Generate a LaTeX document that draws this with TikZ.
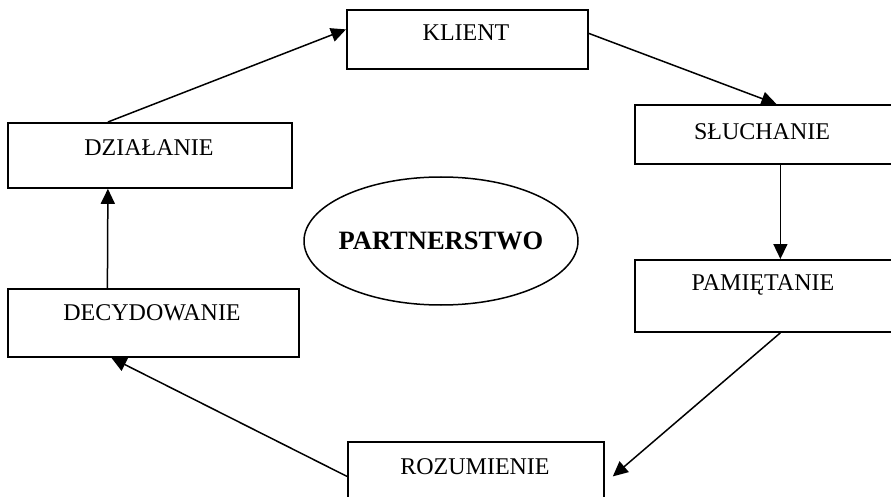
\documentclass[tikz,border=0pt]{standalone}
\usepackage{fontspec}
\setmainfont{Liberation Serif}
\usetikzlibrary{arrows.meta,shapes.geometric}
\begin{document}
\begin{tikzpicture}[x=1pt,y=-1pt,
  stepbox/.style={draw, line width=1.8pt, inner sep=0pt, anchor=north west},
  lbl/.style={font=\fontsize{24}{28}\selectfont, inner sep=0pt},
  conn/.style={line width=1.5pt, -{Triangle[length=15pt,width=14pt]}}]
\clip (0,0) rectangle (891,497);
\useasboundingbox (0,0) rectangle (891,497);
% boxes
\node[stepbox, minimum width=241pt, minimum height=59pt] (kl) at (346,9) {};
\node[stepbox, minimum width=271pt, minimum height=59pt] (sl) at (634,104) {};
\node[stepbox, minimum width=271pt, minimum height=72pt] (pa) at (634,259) {};
\node[stepbox, minimum width=256pt, minimum height=69pt] (ro) at (347,441) {};
\node[stepbox, minimum width=291pt, minimum height=68pt] (de) at (7,288) {};
\node[stepbox, minimum width=284pt, minimum height=65pt] (dz) at (7,122) {};
% labels
\node[lbl] (tkl) at (466,33) {KLIENT};
\node[lbl] (tsl) at (762,132) {SŁUCHANIE};
\node[lbl] (tpa) at (763,285) {PAMIĘTANIE};
\node[lbl] (tro) at (475,467) {ROZUMIENIE};
\node[lbl] (tde) at (152,313) {DECYDOWANIE};
\node[lbl] (tdz) at (149,148) {DZIAŁANIE};
% centre
\node[draw, line width=1.5pt, ellipse, minimum width=274pt, minimum height=128pt, inner sep=0pt] (pt) at (441,241) {};
\node[font=\fontsize{26.5}{30}\selectfont\bfseries, inner sep=0pt] (tpt) at (pt.center) {PARTNERSTWO};
% connectors
\draw[conn] ([xshift=-42pt]dz.north) -- ([yshift=10pt]kl.west);
\draw[conn] ([yshift=6pt]kl.east) -- ([xshift=6pt]sl.north);
\draw[conn] ([xshift=10pt]sl.south) -- ([xshift=10pt]pa.north);
\draw[conn] ([xshift=10pt]pa.south) -- ([xshift=8pt]ro.east);
\draw[conn] (ro.west) -- ([xshift=-42pt]de.south);
\draw[conn] ([xshift=-46pt]de.north) -- ([xshift=-42pt]dz.south);
\end{tikzpicture}
\end{document}
